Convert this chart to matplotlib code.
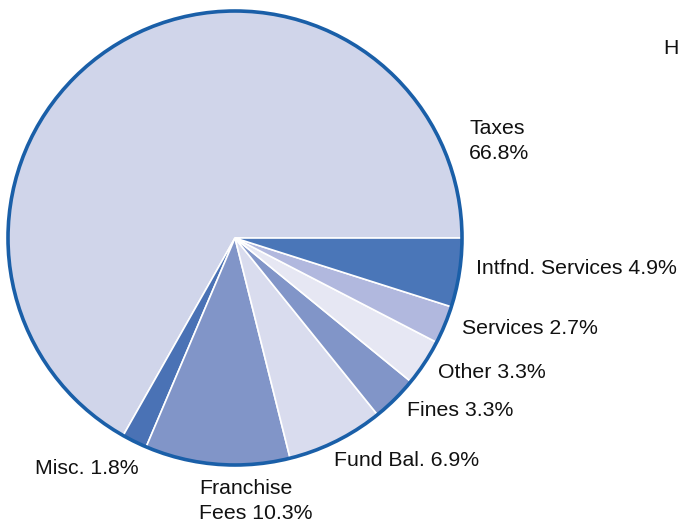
import matplotlib
matplotlib.use('Agg')
import matplotlib.pyplot as plt
from matplotlib.patches import Circle

# Revenue sources (percent of total), counterclockwise from 3 o'clock
categories = ['Taxes', 'Misc.', 'Franchise Fees', 'Fund Bal.', 'Fines',
              'Other', 'Services', 'Intfnd. Services']
shares = [66.8, 1.8, 10.3, 6.9, 3.3, 3.3, 2.7, 4.9]
label_texts = ['Taxes\n66.8%', 'Misc. 1.8%', 'Franchise\nFees 10.3%',
               'Fund Bal. 6.9%', 'Fines 3.3%', 'Other 3.3%',
               'Services 2.7%', 'Intfnd. Services 4.9%']

colors = ['#d0d5ea', '#4a72b5', '#8195c8', '#d9dcee', '#8195c8',
          '#e6e7f3', '#b1b8de', '#4a76b8']

W, H = 680, 522
fig = plt.figure(figsize=(W / 100, H / 100), dpi=100)
ax = fig.add_axes([0, 0, 1, 1])

cx, cy, r = 235, H - 238, 227

ax.pie(shares, colors=colors, startangle=0, counterclock=True,
       center=(cx, cy), radius=r, frame=True,
       wedgeprops=dict(edgecolor='white', linewidth=1.2))
ax.set_xlim(0, W)
ax.set_ylim(0, H)
ax.set_aspect('equal')
ax.axis('off')

# thick blue outline
ax.add_patch(Circle((cx, cy), r, fill=False, edgecolor='#1a5fa8', linewidth=2.6))

# label positions (left x, centre y in image pixels)
label_pos = [(469, 141), (35, 468), (199, 501), (334, 460), (407, 411),
             (438, 372), (462, 329), (476, 268)]
for txt, (lx, ly) in zip(label_texts, label_pos):
    ax.text(lx, H - ly, txt, fontsize=15.3, family='Liberation Sans',
            ha='left', va='center', linespacing=1.38, color='#111111')

# title fragment at top right (cut by the frame in the original)
ax.text(663, H - 48, 'H', fontsize=15.3, family='Liberation Sans',
        ha='left', va='center', color='#111111')

fig.savefig('out.png', dpi=100)
